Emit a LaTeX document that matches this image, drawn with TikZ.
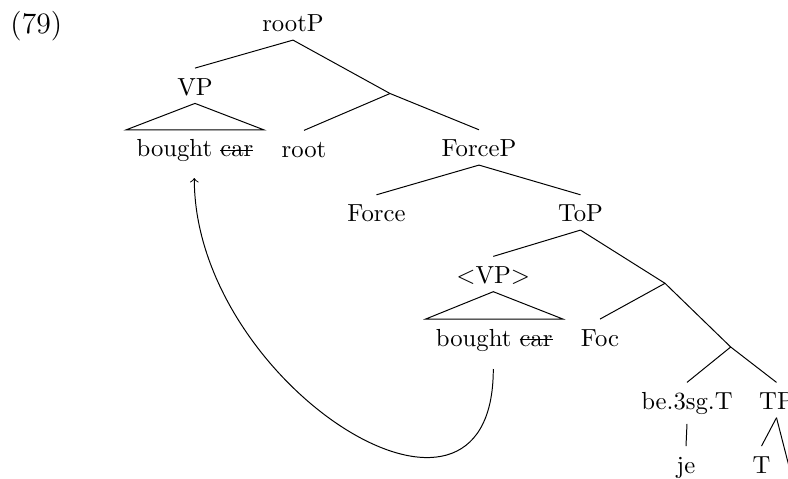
\documentclass[tikz,border=0pt]{standalone}
\newcommand\strk[1]{\begingroup\setbox0\hbox{#1}\rlap{\rule[2.3pt]{\wd0}{0.4pt}}\box0\endgroup}
\begin{document}
\begin{tikzpicture}[x=0.405pt,y=-0.405pt,
  lbl/.style={inner xsep=0pt, inner ysep=3.2pt, text height=7.5pt, text depth=0pt, anchor=base},
  tri/.style={lbl, inner xsep=4pt},
  branch/.style={draw, line width=0.4pt},
  move/.style={draw, line width=0.4pt, ->}]
\useasboundingbox (0,0) rectangle (788,479);
\node[anchor=base west, inner sep=0pt, font=\fontsize{12}{14}\selectfont] (ex) at (10,33.3) {(79)};
\node[lbl] (rootP) at (293,31.7) {rootP};
\node[lbl] (VP) at (195,95) {VP};
\node[tri] (boughtA) at (195,156.7) {bought \strk{car}};
\node[lbl] (root) at (304,157.3) {root};
\node[lbl] (ForceP) at (479,156.7) {ForceP};
\node[lbl] (Force) at (376.5,221.7) {Force};
\node[lbl] (ToP) at (580.5,221.7) {ToP};
\node[lbl] (VPb) at (493.3,283.3) {<VP>};
\node[tri] (boughtB) at (494.3,346) {bought \strk{car}};
\node[lbl] (Foc) at (600,346) {Foc};
\node[lbl, text depth=2.5pt] (be) at (687,409.3) {be.3sg.T};
\node[lbl] (TP) at (776.5,409.3) {TP};
\node[lbl] (je) at (686,473) {je};
\node[lbl] (T) at (761.5,473) {T};
\coordinate (j1) at (390,93.5);
\coordinate (j2) at (665,283.3);
\coordinate (j3) at (730.7,347);
\coordinate (tpr) at (792,478);
\coordinate (cs) at (493.3,369);
\coordinate (ce) at (194.3,178);
% branches
\draw[branch] (rootP.south) -- (VP.north);
\draw[branch] (rootP.south) -- (j1);
\draw[branch] (j1) -- (root.north);
\draw[branch] (j1) -- (ForceP.north);
\draw[branch] (ForceP.south) -- (Force.north);
\draw[branch] (ForceP.south) -- (ToP.north);
\draw[branch] (ToP.south) -- (VPb.north);
\draw[branch] (ToP.south) -- (j2);
\draw[branch] (j2) -- (Foc.north);
\draw[branch] (j2) -- (j3);
\draw[branch] (j3) -- (be.north);
\draw[branch] (j3) -- (TP.north);
\draw[branch] (be.south) -- (je.north);
\draw[branch] (TP.south) -- (T.north);
\draw[branch] (TP.south) -- (tpr);
% triangles
\draw[branch] (VP.south) -- (boughtA.north west) -- (boughtA.north east) -- cycle;
\draw[branch] (VPb.south) -- (boughtB.north west) -- (boughtB.north east) -- cycle;
% movement
\draw[move] (cs) .. controls +(0,206) and +(0,206) .. (ce);
\end{tikzpicture}
\end{document}
